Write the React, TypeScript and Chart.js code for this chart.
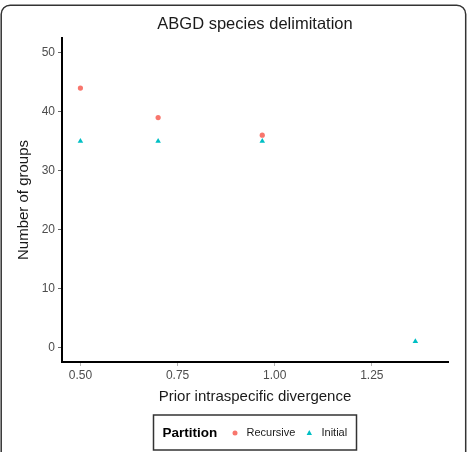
import { useEffect, useRef } from "react";
import { Chart, registerables } from "chart.js";

Chart.register(...registerables);

// Prior intraspecific divergence values (x) and number of groups found (y)
const priorDivergence = [0.5, 0.7, 0.968, 1.362];
const recursiveGroups = [44, 39, 36, null];
const initialGroups = [35, 35, 35, 1];
const xTicks = [0.5, 0.75, 1.0, 1.25];
const yTicks = [0, 10, 20, 30, 40, 50];

const seriesNames = ["Recursive", "Initial"];
const seriesColors = ["#F8766D", "#00BFC4"];

const FONT = "'Liberation Sans', Arial, Helvetica, sans-serif";

const W = 469;
const H = 452;

function toPoints(ys: (number | null)[]) {
  const out: { x: number; y: number }[] = [];
  ys.forEach((y, i) => {
    if (y !== null) out.push({ x: priorDivergence[i], y });
  });
  return out;
}

const decorations = {
  id: "decorations",
  afterDraw(chart: any) {
    const { ctx, chartArea } = chart;
    ctx.save();

    // outer rounded frame
    ctx.strokeStyle = "#333333";
    ctx.lineWidth = 1.5;
    ctx.beginPath();
    ctx.roundRect(1.2, 5.2, 464.5, 460, 9);
    ctx.stroke();

    const cx = (chartArea.left + chartArea.right) / 2;
    const cy = (chartArea.top + chartArea.bottom) / 2;

    // title
    ctx.fillStyle = "#1a1a1a";
    ctx.font = `16.5px ${FONT}`;
    ctx.textAlign = "center";
    ctx.textBaseline = "middle";
    ctx.fillText("ABGD species delimitation", cx, 24);

    // axis titles
    ctx.font = `15px ${FONT}`;
    ctx.fillText("Prior intraspecific divergence", cx, 397);
    ctx.save();
    ctx.translate(24, cy);
    ctx.rotate(-Math.PI / 2);
    ctx.fillText("Number of groups", 0, 0);
    ctx.restore();

    // legend box
    ctx.strokeStyle = "#333333";
    ctx.lineWidth = 1.5;
    ctx.strokeRect(153.5, 415, 203, 35);
    const ly = 433;
    ctx.textAlign = "left";
    ctx.fillStyle = "#000000";
    ctx.font = `bold 13.5px ${FONT}`;
    ctx.fillText("Partition", 162.5, ly);

    ctx.font = `11px ${FONT}`;
    ctx.fillStyle = "#1a1a1a";
    // Recursive key (circle)
    ctx.fillStyle = seriesColors[0];
    ctx.beginPath();
    ctx.arc(235, ly, 2.5, 0, Math.PI * 2);
    ctx.fill();
    ctx.fillStyle = "#1a1a1a";
    ctx.fillText(seriesNames[0], 246.5, ly);
    // Initial key (triangle)
    ctx.fillStyle = seriesColors[1];
    ctx.beginPath();
    ctx.moveTo(309.3, ly - 3);
    ctx.lineTo(312, ly + 2);
    ctx.lineTo(306.6, ly + 2);
    ctx.closePath();
    ctx.fill();
    ctx.fillStyle = "#1a1a1a";
    ctx.fillText(seriesNames[1], 321.5, ly);

    ctx.restore();
  },
};

export default function App() {
  const canvasRef = useRef<HTMLCanvasElement | null>(null);

  useEffect(() => {
    if (!canvasRef.current) return;
    const chart = new Chart(canvasRef.current, {
      type: "scatter",
      data: {
        datasets: [
          {
            label: seriesNames[0],
            data: toPoints(recursiveGroups),
            backgroundColor: seriesColors[0],
            borderWidth: 0,
            pointStyle: "circle",
            pointRadius: 2.6,
          },
          {
            label: seriesNames[1],
            data: toPoints(initialGroups),
            backgroundColor: seriesColors[1],
            borderWidth: 0,
            pointStyle: "triangle",
            pointRadius: 3.2,
          },
        ],
      },
      options: {
        responsive: false,
        animation: false,
        events: [],
        layout: { padding: { top: 38, right: 21, bottom: 0, left: 0 } },
        plugins: {
          legend: { display: false },
          title: { display: false },
          tooltip: { enabled: false },
        },
        scales: {
          x: {
            type: "linear",
            min: 0.4526,
            max: 1.446,
            afterFit: (s: any) => {
              s.height = 90;
            },
            afterBuildTicks: (s: any) => {
              s.ticks = xTicks.map((v) => ({ value: v }));
            },
            ticks: {
              color: "#4d4d4d",
              font: { family: FONT, size: 12 },
              padding: 2,
              maxRotation: 0,
              callback: (v: any) => Number(v).toFixed(2),
            },
            grid: {
              drawOnChartArea: false,
              drawTicks: true,
              tickLength: 4,
              tickColor: "#b3b3b3",
              tickWidth: 1,
            },
            border: { display: true, color: "#000000", width: 2 },
          },
          y: {
            type: "linear",
            min: -2.5,
            max: 52.5,
            afterFit: (s: any) => {
              s.width = 62;
            },
            afterBuildTicks: (s: any) => {
              s.ticks = yTicks.map((v) => ({ value: v }));
            },
            ticks: {
              color: "#4d4d4d",
              font: { family: FONT, size: 12 },
              padding: 3,
            },
            grid: {
              drawOnChartArea: false,
              drawTicks: true,
              tickLength: 4,
              tickColor: "#666666",
              tickWidth: 1,
            },
            border: { display: true, color: "#000000", width: 2 },
          },
        },
      },
      plugins: [decorations],
    });
    return () => chart.destroy();
  }, []);

  return (
    <div style={{ position: "absolute", left: 0, top: 0, width: W, height: H, background: "#ffffff" }}>
      <canvas ref={canvasRef} width={W} height={H} style={{ display: "block" }} />
    </div>
  );
}
